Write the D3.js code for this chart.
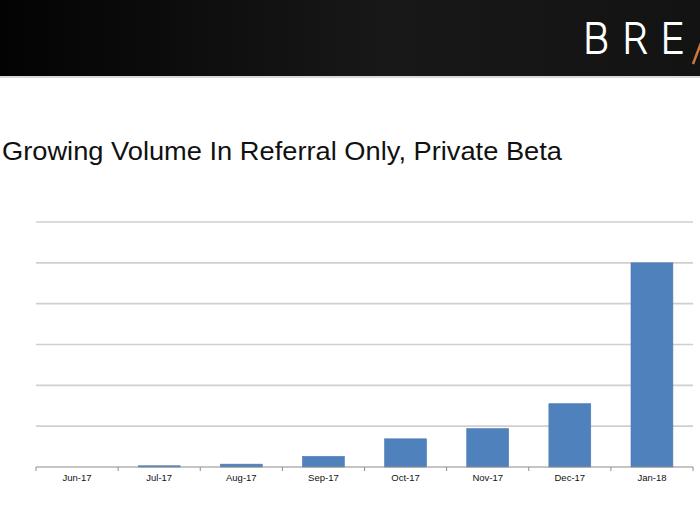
<!DOCTYPE html>
<html>
<head>
<meta charset="utf-8">
<script src="https://cdn.jsdelivr.net/npm/d3@7"></script>
<style>
  html, body { margin: 0; padding: 0; background: #fff; }
  svg { display: block; }
</style>
</head>
<body>
<div id="chart"></div>
<script>
// Monthly volume (no y labels shown, relative units)
const months = ["Jun-17", "Jul-17", "Aug-17", "Sep-17", "Oct-17", "Nov-17", "Dec-17", "Jan-18"];
const volume = [0, 3, 7, 26, 69, 94, 155, 500];
const gridTicks = [0, 100, 200, 300, 400, 500, 600];

const width = 700, height = 525;
const margin = {left: 36, right: 7, top: 222, bottom: 58};

const svg = d3.select("#chart").append("svg")
  .attr("width", width)
  .attr("height", height);

// header band
const defs = svg.append("defs");
const grad = defs.append("linearGradient").attr("id", "hdr");
grad.append("stop").attr("offset", "0%").attr("stop-color", "#030303");
grad.append("stop").attr("offset", "55%").attr("stop-color", "#181818");
grad.append("stop").attr("offset", "100%").attr("stop-color", "#131313");

svg.append("rect")
  .attr("width", width).attr("height", 76)
  .attr("fill", "url(#hdr)");
svg.append("rect")
  .attr("y", 76).attr("width", width).attr("height", 2)
  .attr("fill", "#d8d8d8");

svg.append("text")
  .attr("x", 583).attr("y", 53)
  .attr("fill", "none")
  .attr("stroke", "#fff")
  .attr("stroke-width", 2)
  .attr("font-family", "Inter, 'DejaVu Sans', sans-serif")
  .attr("font-weight", 100)
  .attr("font-size", 41)
  .attr("letter-spacing", 13)
  .text("BRE");

svg.append("line")
  .attr("x1", 701).attr("y1", 43)
  .attr("x2", 693).attr("y2", 64)
  .attr("stroke", "#c9773c")
  .attr("stroke-width", 2.5);

// title
svg.append("text")
  .attr("x", 2).attr("y", 160)
  .attr("font-family", "Arial, 'Liberation Sans', sans-serif")
  .attr("font-size", 25)
  .attr("textLength", 560)
  .attr("lengthAdjust", "spacingAndGlyphs")
  .attr("fill", "#111")
  .text("Growing Volume In Referral Only, Private Beta");

// scales
const x = d3.scaleBand()
  .domain(months)
  .range([margin.left, width - margin.right])
  .paddingInner(0.49)
  .paddingOuter(0.245);

const y = d3.scaleLinear()
  .domain([0, 600])
  .range([height - margin.bottom, margin.top]);

// gridlines
svg.append("g")
  .selectAll("line")
  .data(gridTicks.slice(1))
  .join("line")
  .attr("x1", margin.left)
  .attr("x2", width - margin.right)
  .attr("y1", d => y(d))
  .attr("y2", d => y(d))
  .attr("stroke", "#cfcfcf")
  .attr("stroke-width", 1.6);

// bars
svg.append("g")
  .selectAll("rect")
  .data(months.map((m, i) => ({m, v: volume[i]})))
  .join("rect")
  .attr("x", d => x(d.m))
  .attr("width", x.bandwidth())
  .attr("y", d => y(d.v))
  .attr("height", d => y(0) - y(d.v))
  .attr("fill", "#4f81bd")
  .attr("stroke", "#4a78b0")
  .attr("stroke-width", 0.6);

// x axis
const step = x.step();
const boundaries = months.map((m, i) => margin.left + i * step).concat([width - margin.right]);

const axis = svg.append("g");
axis.append("line")
  .attr("x1", margin.left).attr("x2", width - margin.right)
  .attr("y1", y(0)).attr("y2", y(0))
  .attr("stroke", "#8c8c8c")
  .attr("stroke-width", 1.2);
axis.selectAll("line.tick")
  .data(boundaries)
  .join("line")
  .attr("class", "tick")
  .attr("x1", d => d).attr("x2", d => d)
  .attr("y1", y(0)).attr("y2", y(0) + 4)
  .attr("stroke", "#8c8c8c");
axis.selectAll("text")
  .data(months)
  .join("text")
  .attr("x", d => x(d) + x.bandwidth() / 2)
  .attr("y", y(0) + 14)
  .attr("text-anchor", "middle")
  .attr("font-family", "Arial, 'Liberation Sans', sans-serif")
  .attr("font-size", 9.5)
  .attr("fill", "#111")
  .text(d => d);
</script>
</body>
</html>
